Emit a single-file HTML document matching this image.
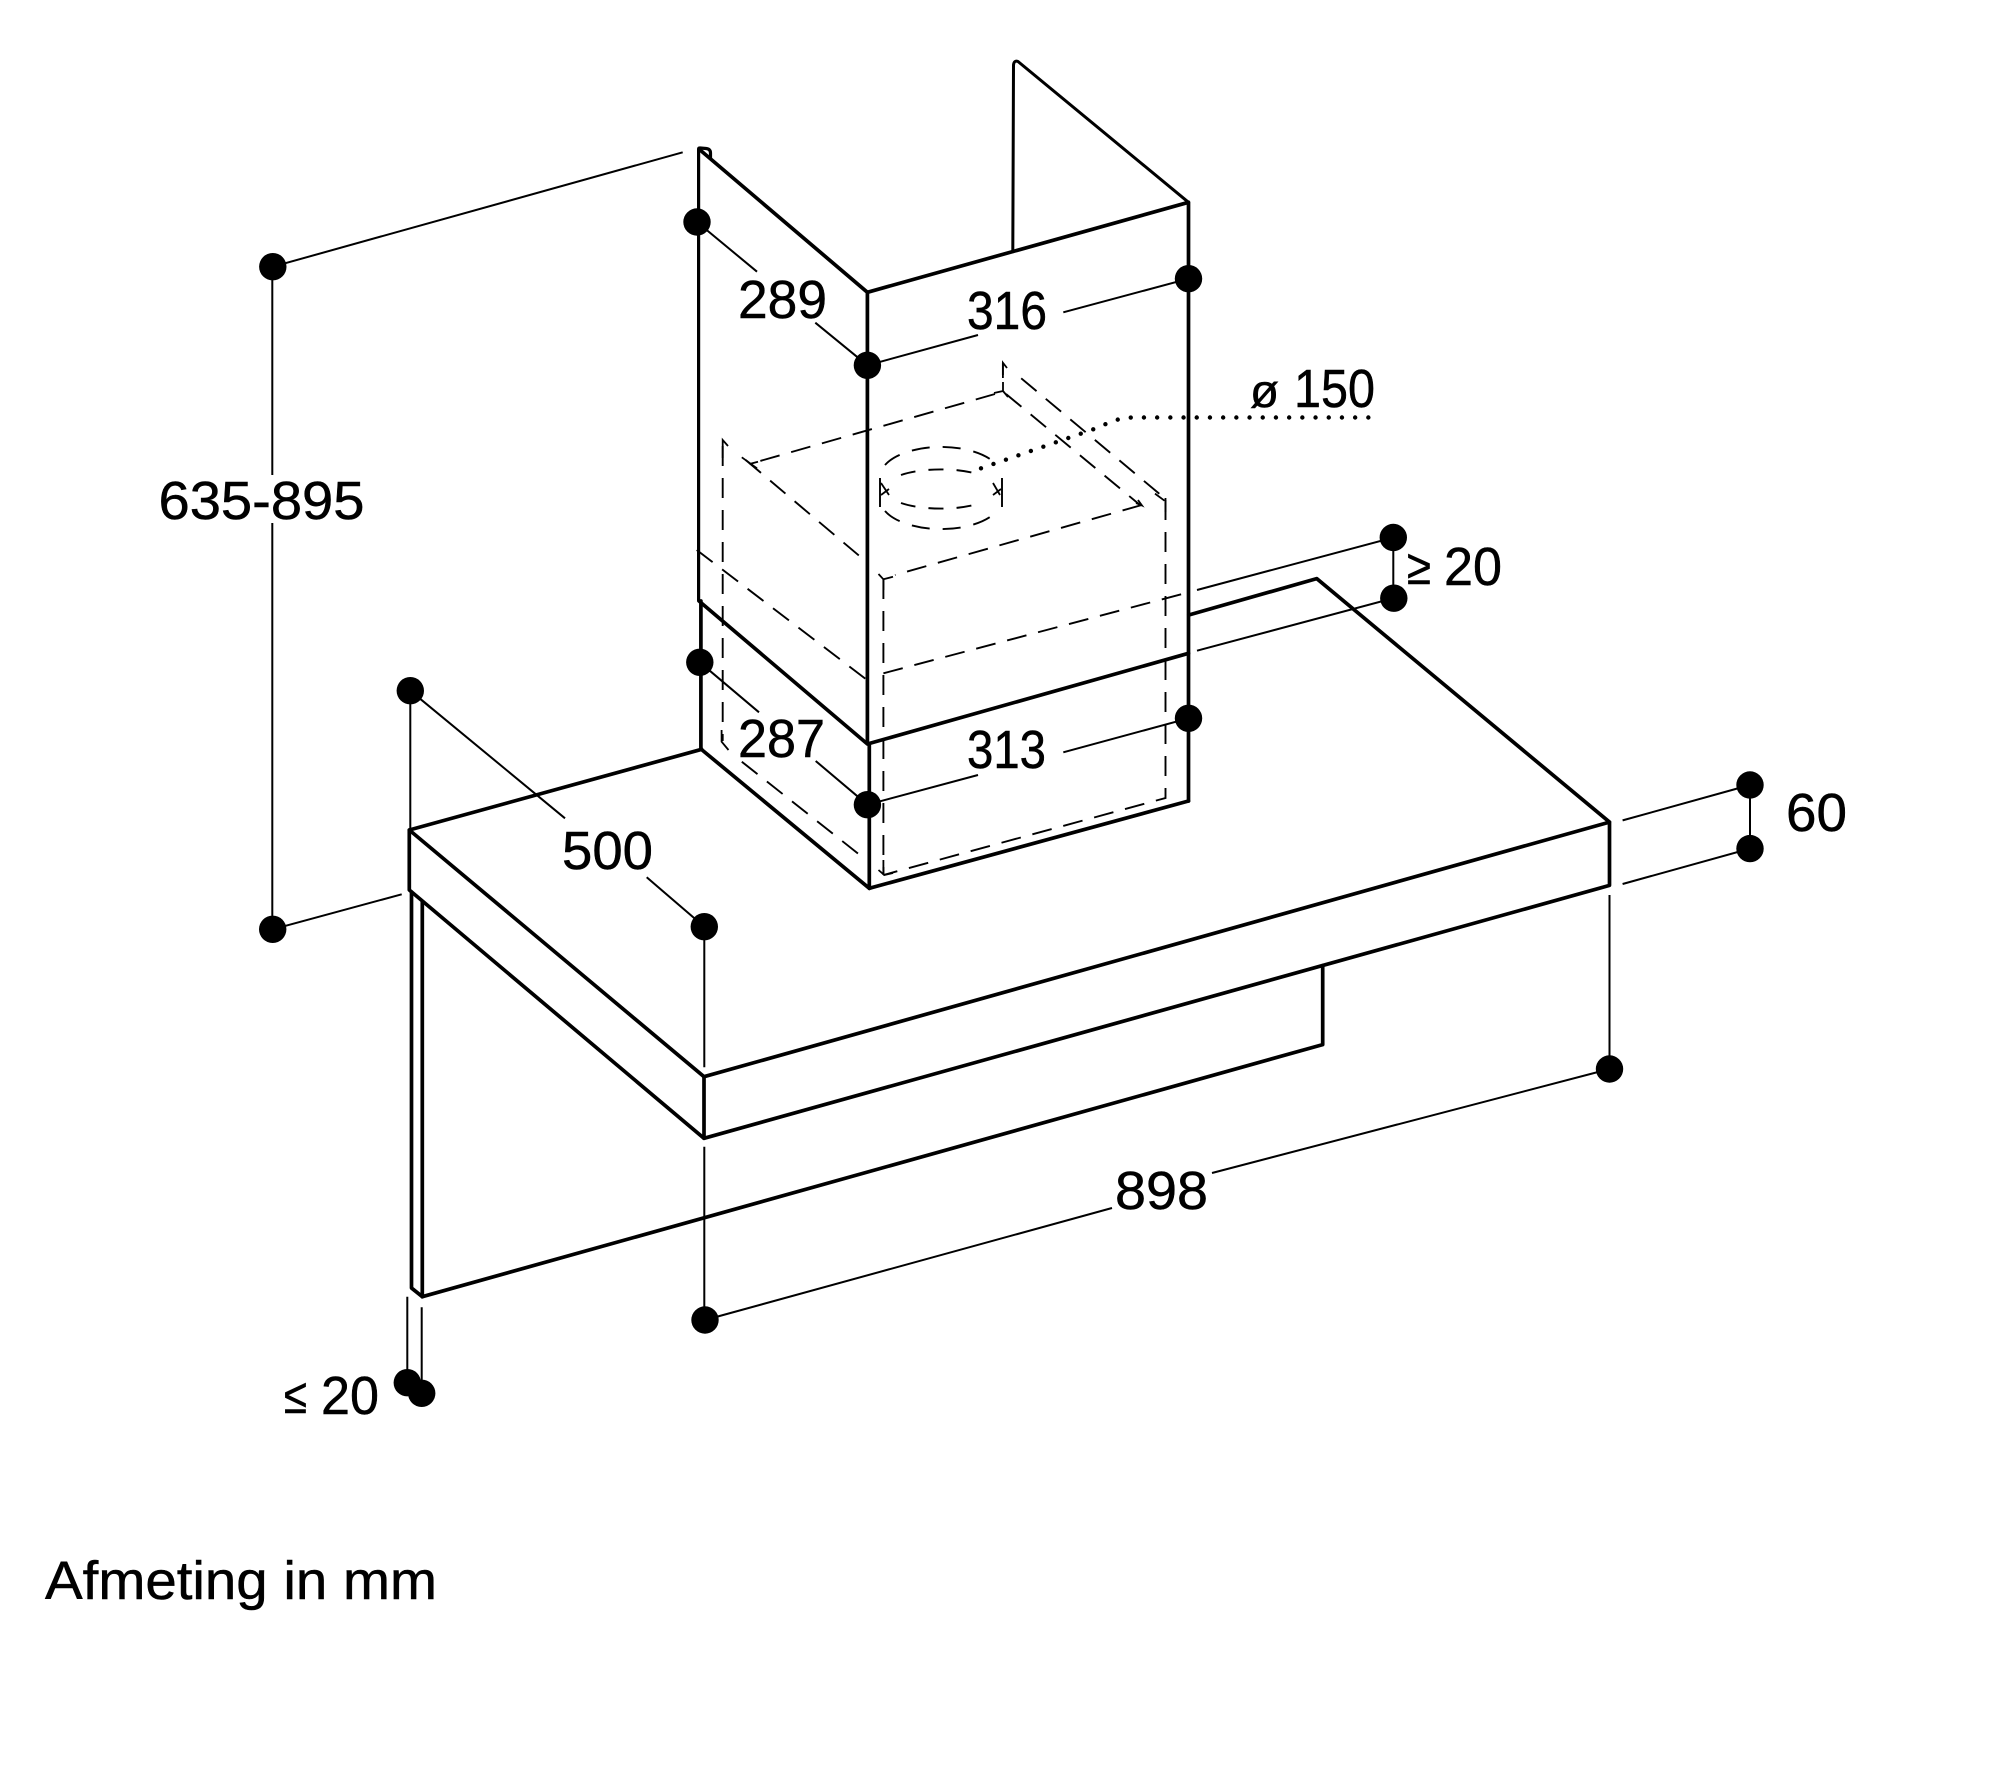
<!DOCTYPE html>
<html lang="nl">
<head>
<meta charset="utf-8">
<title>Afmeting in mm</title>
<style>
html,body{margin:0;padding:0;background:#fff}
svg{display:block}
text{font-family:"Liberation Sans",sans-serif;fill:#000;stroke:#000;stroke-width:.5}
</style>
</head>
<body>
<svg xmlns="http://www.w3.org/2000/svg" width="2000" height="1766" viewBox="0 0 2000 1766">
<rect width="2000" height="1766" fill="#fff"/>

<!-- thick outlines -->
<g fill="none" stroke="#000" stroke-width="3.7" stroke-linejoin="round" stroke-linecap="round">
  <!-- chimney upper -->
  <path d="M698.6 600V149Q698.6 148 700 148L706 148.5Q710.5 149 710.5 153V158" stroke-width="3.2"/>
  <path d="M699.5 149.5L867.4 292.3V743"/>
  <path d="M867.4 292.3L1188.5 202.3V801"/>
  <path d="M699 601L867.4 744L1188.5 653.3" />
  <path d="M700.9 601V749L869.3 888.3V744"/>
  <path d="M869.3 888.3L1188.5 801"/>
  <!-- back panel -->
  <path stroke-width="3" d="M1012.8 251.7L1013.5 65Q1014 60 1018 61.5L1188.5 202.3"/>
  <!-- hood -->
  <path d="M409.3 830L701.7 749.3"/>
  <path d="M1188.8 615L1316.7 578.6L1609.5 822.1L704 1076.7L409.3 830V890L704 1138.3L1609.5 885.4V822.1"/>
  <path d="M704 1076.7V1138.3"/>
  <!-- wall panel -->
  <path d="M411.5 892V1288L422.3 1296.7V901.7"/>
  <path d="M422.3 1296.7L1322.7 1044.6V965.6"/>
</g>

<!-- hidden dashed lines -->
<g fill="none" stroke="#000" stroke-width="1.9" stroke-dasharray="20 12">
  <path d="M1002.9 375V362.7"/>
  <path d="M995 394L749.5 464"/>
  <path d="M722.7 446V741"/>
  <path d="M1165.5 500V798L883.4 875"/>
  <path d="M883.4 579V875"/>
  <path d="M1141.8 505L895 575"/>
  <path d="M883.4 673.3L1186.4 592.9"/>
  <path d="M1021.2 378.3L1164.7 498.3"/>
  <path d="M1006 394L1140 505"/>
  <path d="M745.7 460L866.2 561.7"/>
  <path d="M696.7 550L866.2 679.3"/>
  <path d="M741.8 761.7L866.2 860"/>
  <path stroke-dasharray="18 13" d="M885 465A61 30 0 0 1 997 465"/>
  <path stroke-dasharray="18 13" d="M885 511A61 30 0 0 0 997 511"/>
  <path stroke-dasharray="15 13" d="M901 475A57 19.5 0 0 1 981 475"/>
  <path stroke-dasharray="15 13" d="M901 503A57 19.5 0 0 0 981 503"/>
  <path stroke-dasharray="30 1" d="M880 478V507M1002 478V507"/>
</g>
<g fill="none" stroke="#000" stroke-width="1.8">
  <path d="M1002.9 378V362.7L1007 368"/>
  <path d="M994 393L1003 391V382M1003 391L1008 397"/>
  <path d="M722.7 458V440L728 446"/>
  <path d="M741.8 457.3L757 468.3M749.5 464L758 461.7"/>
  <path d="M1155 493.6L1164.5 500.7M1165.5 498V512"/>
  <path d="M1136 503L1142 505.5L1138 500"/>
  <path d="M721.6 730V741.7L728.5 750"/>
  <path d="M878.5 870L884.3 875L893 873M883.4 860V875"/>
  <path d="M878.5 574L883.4 579.3L893 576.7M883.4 579.3V590"/>
  <path d="M881 483L889 495M881 495L889 489M993 483L1000 495M993 495L1001 489"/>
</g>

<!-- dotted leader -->
<path fill="none" stroke="#000" stroke-width="4.4" stroke-linecap="round" stroke-dasharray="0 13.2"
      d="M981 468.3L1100 427Q1116 418 1132 417.5H1372"/>

<!-- dimension lines -->
<g fill="none" stroke="#000" stroke-width="2">
  <path d="M272.8 266.7L682.7 152.3"/>
  <path d="M272.3 266.7V475M272.3 523V929.3"/>
  <path d="M272.7 929.3L401.7 894.3"/>
  <path d="M410.3 690.7V830"/>
  <path d="M410.3 690.7L565 818.3M646.7 877.3L704.3 926.7"/>
  <path d="M704.3 926.7V1067.3M704.3 1146.7V1320"/>
  <path d="M705 1320L1112 1208M1212 1173L1609.5 1069"/>
  <path d="M1609.5 895V1069"/>
  <path d="M697 222L757 271.7M815.3 322.7L867.4 365.3"/>
  <path d="M867.4 365.3L978 335M1063.3 312.3L1188.5 278.7"/>
  <path d="M699.8 662.3L759 712.3M815.7 761L867.4 804.7"/>
  <path d="M867.4 804.7L978 775M1063.3 752.3L1188.5 718.3"/>
  <path d="M1197 590L1393.3 537.5V598.2L1197 650.7"/>
  <path d="M1622.6 820.4L1750 785V848.6L1622.6 884"/>
  <path d="M407.3 1296.7V1382.7M421.7 1307.3V1393.3"/>
</g>

<!-- dots -->
<g fill="#000">
  <circle cx="272.8" cy="266.7" r="13.7"/>
  <circle cx="272.7" cy="929.3" r="13.7"/>
  <circle cx="410.3" cy="690.7" r="13.7"/>
  <circle cx="704.3" cy="926.7" r="13.7"/>
  <circle cx="705" cy="1320" r="13.7"/>
  <circle cx="1609.5" cy="1069" r="13.7"/>
  <circle cx="697" cy="222" r="13.7"/>
  <circle cx="867.4" cy="365.3" r="13.7"/>
  <circle cx="1188.5" cy="278.7" r="13.7"/>
  <circle cx="699.8" cy="662.3" r="13.7"/>
  <circle cx="867.4" cy="804.7" r="13.7"/>
  <circle cx="1188.5" cy="718.3" r="13.7"/>
  <circle cx="1393.3" cy="537.5" r="13.7"/>
  <circle cx="1393.8" cy="598.2" r="13.7"/>
  <circle cx="1750" cy="785" r="13.7"/>
  <circle cx="1750" cy="848.6" r="13.7"/>
  <circle cx="407.3" cy="1382.7" r="13.7"/>
  <circle cx="421.7" cy="1393.3" r="13.7"/>
</g>

<!-- labels -->
<g font-size="54">
  <text x="158.5" y="519" textLength="206" lengthAdjust="spacingAndGlyphs">635-895</text>
  <text x="738" y="318" textLength="89" lengthAdjust="spacingAndGlyphs">289</text>
  <text x="967" y="329" textLength="80" lengthAdjust="spacingAndGlyphs">316</text>
  <text x="738" y="757" textLength="87" lengthAdjust="spacingAndGlyphs">287</text>
  <text x="967" y="768" textLength="79" lengthAdjust="spacingAndGlyphs">313</text>
  <text x="562" y="869" textLength="91" lengthAdjust="spacingAndGlyphs">500</text>
  <text x="1115" y="1209" textLength="93" lengthAdjust="spacingAndGlyphs">898</text>
  <text x="1786" y="831" textLength="61" lengthAdjust="spacingAndGlyphs">60</text>
  <text x="1444" y="585" textLength="58" lengthAdjust="spacingAndGlyphs">20</text>
  <text x="321" y="1414" textLength="58" lengthAdjust="spacingAndGlyphs">20</text>
  <text x="1294" y="407" textLength="81" lengthAdjust="spacingAndGlyphs">150</text>
  <text x="1250" y="407" font-size="46" textLength="29" lengthAdjust="spacingAndGlyphs">ø</text>
  <text x="1407" y="584" font-size="50" textLength="24" lengthAdjust="spacingAndGlyphs">≥</text>
  <text x="284" y="1413" font-size="50" textLength="23" lengthAdjust="spacingAndGlyphs">≤</text>
  <text x="45" y="1599" textLength="392" lengthAdjust="spacingAndGlyphs">Afmeting in mm</text>
</g>
</svg>
</body>
</html>
